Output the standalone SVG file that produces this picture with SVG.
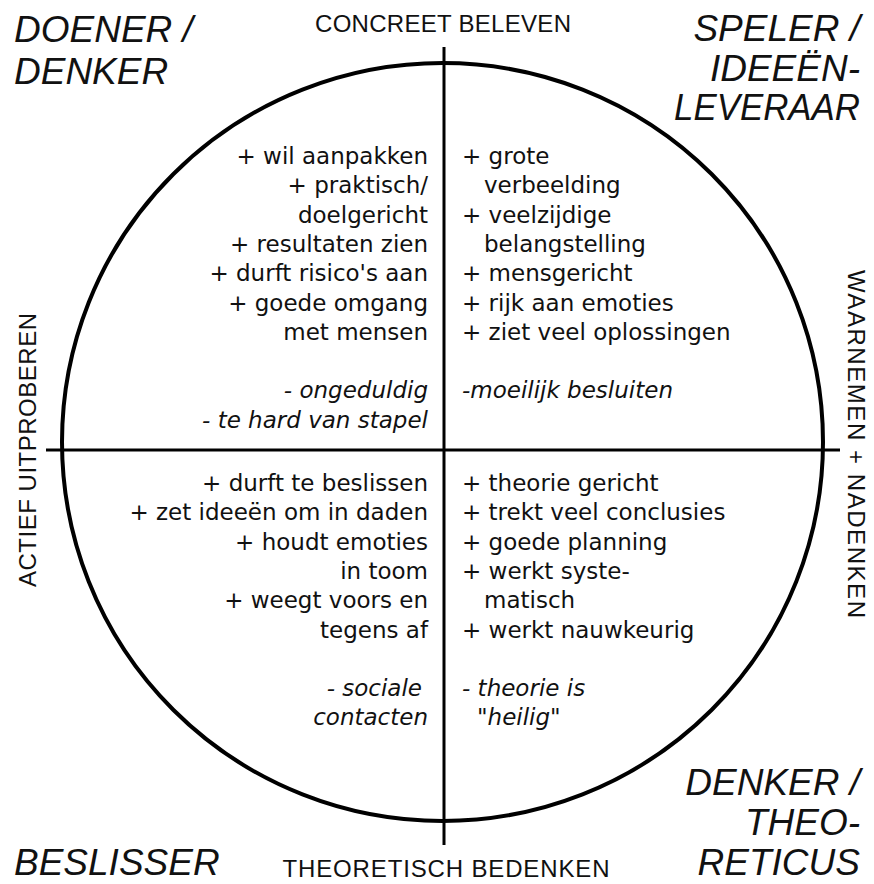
<svg xmlns="http://www.w3.org/2000/svg" width="874" height="884" viewBox="0 0 874 884">
<style>
.bg{fill:#fff}
.ring{fill:none;stroke:#000;stroke-width:4}
.axis{stroke:#000;stroke-width:3;fill:none}
.head{font-family:"Liberation Sans",Arial,sans-serif;font-style:italic;font-size:37px;fill:#111}
.ax{font-family:"Liberation Sans",Arial,sans-serif;font-size:24px;fill:#111}
.body{font-family:"DejaVu Sans","Liberation Sans",sans-serif;font-size:23px;fill:#111}
.neg{font-style:italic}
.l{text-anchor:end}
.m{text-anchor:middle}
</style>
<rect class="bg" x="0" y="0" width="874" height="884"/>
<g id="circle">
<ellipse class="ring" cx="442.5" cy="442" rx="380.5" ry="379"/>
</g>
<g id="connectors">
<line class="axis" x1="444" y1="47" x2="444" y2="845"/>
<line class="axis" x1="46" y1="450" x2="840" y2="450"/>
</g>
<g id="axis-labels">
<text class="ax m" x="443" y="32" textLength="256" lengthAdjust="spacing">CONCREET BELEVEN</text>
<text class="ax m" x="446" y="877" textLength="327" lengthAdjust="spacing">THEORETISCH BEDENKEN</text>
<text class="ax m" transform="translate(36 450) rotate(-90)" x="0" y="0" textLength="274" lengthAdjust="spacing">ACTIEF UITPROBEREN</text>
<text class="ax m" transform="translate(848 444) rotate(90)" x="0" y="0" textLength="348" lengthAdjust="spacing">WAARNEMEN + NADENKEN</text>
</g>
<g id="doener-denker">
<text class="head" x="14" y="42">DOENER /</text>
<text class="head" x="14" y="84">DENKER</text>
</g>
<g id="speler">
<text class="head l" x="860" y="41">SPELER /</text>
<text class="head l" x="860" y="81">IDEEËN-</text>
<text class="head l" x="860" y="120" textLength="186" lengthAdjust="spacingAndGlyphs">LEVERAAR</text>
</g>
<g id="beslisser">
<text class="head" x="14" y="875">BESLISSER</text>
</g>
<g id="denker-theoreticus">
<text class="head l" x="860" y="795">DENKER /</text>
<text class="head l" x="860" y="835">THEO-</text>
<text class="head l" x="860" y="875">RETICUS</text>
</g>
<g id="quadrant-top-left" class="body l">
<text x="428" y="164">+ wil aanpakken</text>
<text x="428" y="193.3">+ praktisch/</text>
<text x="428" y="222.6">doelgericht</text>
<text x="428" y="251.9">+ resultaten zien</text>
<text x="428" y="281.2">+ durft risico's aan</text>
<text x="428" y="310.5">+ goede omgang</text>
<text x="428" y="339.8">met mensen</text>
<text class="neg" x="428" y="398.4">- ongeduldig</text>
<text class="neg" x="428" y="427.7">- te hard van stapel</text>
</g>
<g id="quadrant-top-right" class="body">
<text x="462" y="164">+ grote</text>
<text x="484" y="193.3">verbeelding</text>
<text x="462" y="222.6">+ veelzijdige</text>
<text x="484" y="251.9">belangstelling</text>
<text x="462" y="281.2">+ mensgericht</text>
<text x="462" y="310.5">+ rijk aan emoties</text>
<text x="462" y="339.8">+ ziet veel oplossingen</text>
<text class="neg" x="462" y="398.4">-moeilijk besluiten</text>
</g>
<g id="quadrant-bottom-left" class="body l">
<text x="428" y="491">+ durft te beslissen</text>
<text x="428" y="520.3">+ zet ideeën om in daden</text>
<text x="428" y="549.6">+ houdt emoties</text>
<text x="428" y="578.9">in toom</text>
<text x="428" y="608.2">+ weegt voors en</text>
<text x="428" y="637.5">tegens af</text>
<text class="neg" x="422" y="696.1">- sociale</text>
<text class="neg" x="428" y="725.4">contacten</text>
</g>
<g id="quadrant-bottom-right" class="body">
<text x="462" y="491">+ theorie gericht</text>
<text x="462" y="520.3">+ trekt veel conclusies</text>
<text x="462" y="549.6">+ goede planning</text>
<text x="462" y="578.9">+ werkt syste-</text>
<text x="484" y="608.2">matisch</text>
<text x="462" y="637.5">+ werkt nauwkeurig</text>
<text class="neg" x="462" y="696.1">- theorie is</text>
<text class="neg" x="477" y="725.4">"heilig"</text>
</g>
</svg>
